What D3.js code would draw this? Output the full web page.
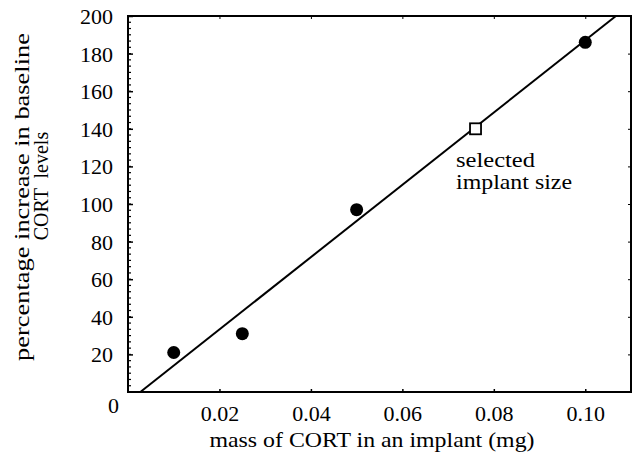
<!DOCTYPE html>
<html>
<head>
<meta charset="utf-8">
<script src="https://cdn.jsdelivr.net/npm/d3@7"></script>
<style>
  body { margin: 0; background: #fff; }
</style>
</head>
<body>
<div id="chart"></div>
<script>
// measured points (mass of CORT in mg, % increase)
var massValues = [0.010, 0.025, 0.050, 0.100];
var increaseValues = [21, 31, 97, 186];

// selected implant size
var selectedMass = [0.076];
var selectedIncrease = [140];

// regression line end points
var fitMass = [0.0027, 0.1067];
var fitIncrease = [0, 200];

var xTicks = [0, 0.02, 0.04, 0.06, 0.08, 0.10];
var xTickLabels = ["0", "0.02", "0.04", "0.06", "0.08", "0.10"];
var yTicks = [20, 40, 60, 80, 100, 120, 140, 160, 180, 200];

var FONT = "'Liberation Serif', 'Times New Roman', Times, serif";

var width = 642, height = 461;
var margin = {top: 16, right: 11, bottom: 69, left: 128};

var svg = d3.select("#chart").append("svg")
    .attr("width", width)
    .attr("height", height)
    .attr("font-family", FONT);

var x = d3.scaleLinear().domain([0, 0.11]).range([margin.left, width - margin.right]);
var y = d3.scaleLinear().domain([0, 200]).range([height - margin.bottom, margin.top]);

var x0 = x.range()[0], x1 = x.range()[1];
var y0 = y.range()[0], y1 = y.range()[1];

// frame
svg.append("rect")
    .attr("x", x0).attr("y", y1)
    .attr("width", x1 - x0).attr("height", y0 - y1)
    .attr("fill", "none")
    .attr("stroke", "#000")
    .attr("stroke-width", 2);

// minor ticks on left axis
var minor = d3.range(0, 200, 20 / 6);
svg.append("g").selectAll("line")
    .data(minor)
    .enter().append("line")
    .attr("x1", x0).attr("x2", x0 + 3)
    .attr("y1", function(d) { return y(d); })
    .attr("y2", function(d) { return y(d); })
    .attr("stroke", "#000").attr("stroke-width", 1.2);

// left axis (ticks inward)
var yAxis = svg.append("g")
    .attr("transform", "translate(" + x0 + ",0)")
    .call(d3.axisLeft(y).tickValues(yTicks).tickSizeInner(-5).tickSizeOuter(0).tickPadding(15));
yAxis.attr("font-family", FONT);
yAxis.select(".domain").remove();
yAxis.selectAll(".tick line").attr("stroke-width", 1.5);
yAxis.selectAll(".tick text")
    .style("font-size", "22px")
    .attr("dy", "0.34em");

// right axis ticks
svg.append("g")
    .attr("transform", "translate(" + x1 + ",0)")
    .call(d3.axisRight(y).tickValues(yTicks).tickSize(-3).tickFormat(""))
    .select(".domain").remove();

// bottom axis
var xAxis = svg.append("g")
    .attr("transform", "translate(0," + y0 + ")")
    .call(d3.axisBottom(x).tickValues(xTicks).tickSizeInner(-3).tickSizeOuter(0)
        .tickPadding(13)
        .tickFormat(function(d, i) { return xTickLabels[i]; }));
xAxis.attr("font-family", FONT);
xAxis.select(".domain").remove();
xAxis.selectAll(".tick line").attr("stroke-width", 1.5);
xAxis.selectAll(".tick text")
    .style("font-size", "22px")
    .attr("dy", "0.71em");
// origin label sits left of the corner
var originTick = xAxis.selectAll(".tick").filter(function(d) { return d === 0; });
originTick.select("text").attr("x", -15).attr("y", 5);
originTick.select("line").remove();

// top axis ticks
svg.append("g")
    .attr("transform", "translate(0," + y1 + ")")
    .call(d3.axisTop(x).tickValues(xTicks.slice(1)).tickSize(-3).tickFormat(""))
    .select(".domain").remove();

// regression line
var line = d3.line()
    .x(function(d) { return x(d[0]); })
    .y(function(d) { return y(d[1]); });
svg.append("path")
    .datum(d3.zip(fitMass, fitIncrease))
    .attr("d", line)
    .attr("fill", "none")
    .attr("stroke", "#000")
    .attr("stroke-width", 2);

// filled points
svg.append("g").selectAll("circle")
    .data(d3.zip(massValues, increaseValues))
    .enter().append("circle")
    .attr("cx", function(d) { return x(d[0]); })
    .attr("cy", function(d) { return y(d[1]); })
    .attr("r", 6.5)
    .attr("fill", "#000");

// selected implant (open square)
var sq = 11;
svg.append("g").selectAll("rect")
    .data(d3.zip(selectedMass, selectedIncrease))
    .enter().append("rect")
    .attr("x", function(d) { return x(d[0]) - sq / 2; })
    .attr("y", function(d) { return y(d[1]) - sq / 2; })
    .attr("width", sq).attr("height", sq)
    .attr("fill", "#fff")
    .attr("stroke", "#000")
    .attr("stroke-width", 1.8);

// annotation
var note = svg.append("text")
    .attr("x", 456)
    .attr("y", 167)
    .style("font-size", "21px");
note.append("tspan").attr("x", 456).attr("textLength", 79).attr("lengthAdjust", "spacingAndGlyphs").text("selected");
note.append("tspan").attr("x", 456).attr("dy", 22).attr("textLength", 116).attr("lengthAdjust", "spacingAndGlyphs").text("implant size");

// x axis title
svg.append("text")
    .attr("x", 372)
    .attr("y", 447)
    .attr("text-anchor", "middle")
    .attr("textLength", 325)
    .attr("lengthAdjust", "spacingAndGlyphs")
    .style("font-size", "21px")
    .text("mass of CORT in an implant (mg)");

// y axis title, two lines
svg.append("text")
    .attr("transform", "translate(29,197) rotate(-90)")
    .attr("text-anchor", "middle")
    .attr("textLength", 328)
    .attr("lengthAdjust", "spacingAndGlyphs")
    .style("font-size", "20px")
    .text("percentage increase in baseline");
svg.append("text")
    .attr("transform", "translate(48,186) rotate(-90)")
    .attr("text-anchor", "middle")
    .style("font-size", "20px")
    .style("white-space", "pre")
    .text("CORT  levels");
</script>
</body>
</html>
